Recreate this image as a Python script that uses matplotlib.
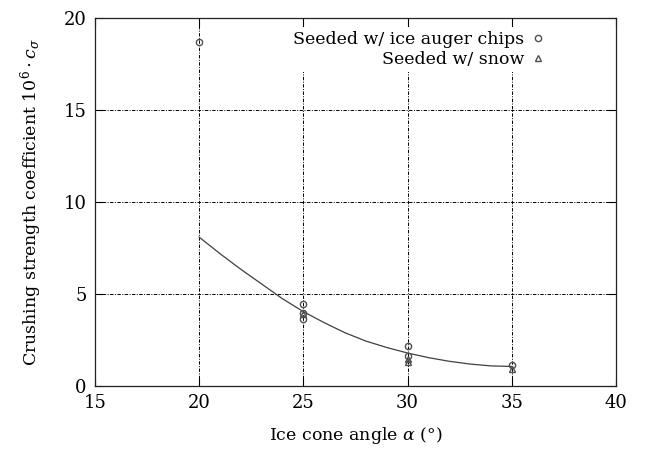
import numpy as np
import matplotlib
matplotlib.use("Agg")
import matplotlib.pyplot as plt

plt.rc('font', family='DejaVu Serif', size=12)
plt.rc('mathtext', fontset='dejavuserif')

# measured points (ice cone angle, 10^6 * c_sigma)
chips_x = [20, 25, 25, 25, 30, 30, 35]
chips_y = [18.7, 4.45, 4.0, 3.65, 2.2, 1.65, 1.15]
snow_x = [25, 30, 30, 35]
snow_y = [3.9, 1.45, 1.3, 0.95]

# fitted curve
fit_x = [20, 21, 22, 23, 24, 25, 26, 27, 28, 29, 30, 31, 32, 33, 34, 35]
fit_y = [8.1, 7.2, 6.35, 5.55, 4.75, 4.05, 3.45, 2.9, 2.45, 2.1, 1.8,
         1.55, 1.35, 1.2, 1.1, 1.07]

fig = plt.figure(figsize=(6.45, 4.49), dpi=100)
ax = fig.add_axes([0.147, 0.140, 0.808, 0.820])

ax.plot(fit_x, fit_y, color='#404040', lw=0.9, zorder=2)
ax.plot(chips_x, chips_y, ls='none', marker='o', ms=4.5, mfc='none',
        mec='#505050', mew=1.0, label='Seeded w/ ice auger chips', zorder=3)
ax.plot(snow_x, snow_y, ls='none', marker='^', ms=4, mfc='none',
        mec='#505050', mew=1.0, label='Seeded w/ snow', zorder=3)

ax.set_xlim(15, 40)
ax.set_ylim(0, 20)
ax.set_xticks(np.arange(15, 41, 5))
ax.set_yticks(np.arange(0, 21, 5))
ax.tick_params(direction='in', length=6, width=0.8, top=True, right=True,
               labelsize=13, pad=6)
ax.grid(True, color='black', lw=0.7, dashes=(3.5, 1.5, 1, 1.5))
for s in ax.spines.values():
    s.set_linewidth(0.9)
    s.set_color('#222222')

ax.set_xlabel(r'Ice cone angle $\alpha$ (°)', fontsize=12.5, labelpad=9)
ax.set_ylabel(r'Crushing strength coefficient $10^6 \cdot c_\sigma$',
              fontsize=12.5, labelpad=14)

leg = ax.legend(loc='upper right', bbox_to_anchor=(0.889, 1.0),
                markerfirst=False, frameon=True, framealpha=1,
                edgecolor='none', fancybox=False, fontsize=12.5,
                handlelength=0.8, handletextpad=0.4, labelspacing=0.15,
                borderpad=0.25)

fig.savefig('out.png', dpi=100)
